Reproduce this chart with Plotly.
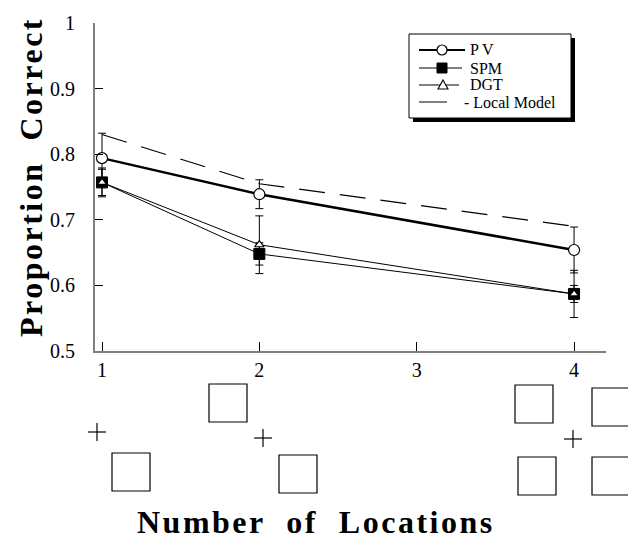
import plotly.graph_objects as go

# ---- data ----
locations = [1, 2, 4]
pv = [0.794, 0.739, 0.654]
pv_err = [0.038, 0.022, 0.035]
spm = [0.757, 0.648, 0.587]
spm_err = [0.022, 0.017, 0.036]
dgt = [0.757, 0.662, 0.587]
dgt_err = [0.020, 0.044, 0.013]
local_model = [0.830, 0.755, 0.690]

x_ticks = [1, 2, 3, 4]
x_ticktext = ["1", "2", "3", "4"]
y_ticks = [0.5, 0.6, 0.7, 0.8, 0.9, 1.0]
y_ticktext = ["0.5", "0.6", "0.7", "0.8", "0.9", "1"]
legend_labels = ["P V", "SPM", "DGT", "- Local Model"]

W, H = 628, 543
ML, MR, MT, MB = 95, 22, 23, 192
PW, PH = W - ML - MR, H - MT - MB

def px(xp):
    return (xp - ML) / PW

def py(yp):
    return (H - MB - yp) / PH

FONT = "Liberation Serif"

fig = go.Figure()

def err(vals):
    return dict(type="data", array=vals, visible=True, thickness=1, width=4, color="black")

fig.add_trace(go.Scatter(
    x=locations, y=local_model, name=legend_labels[3], mode="lines",
    line=dict(color="black", width=1.2, dash="26px,15px")))
fig.add_trace(go.Scatter(
    x=locations, y=pv, name=legend_labels[0], mode="lines+markers",
    line=dict(color="black", width=2.5),
    marker=dict(symbol="circle", size=11, color="white", line=dict(color="black", width=1.2)),
    error_y=err(pv_err)))
fig.add_trace(go.Scatter(
    x=locations, y=spm, name=legend_labels[1], mode="lines+markers",
    line=dict(color="black", width=1),
    marker=dict(symbol="square", size=11, color="black", line=dict(color="black", width=1)),
    error_y=err(spm_err)))
fig.add_trace(go.Scatter(
    x=locations, y=dgt, name=legend_labels[2], mode="lines+markers",
    line=dict(color="black", width=1),
    marker=dict(symbol="triangle-up", size=8, color="white", line=dict(color="black", width=1.2)),
    error_y=err(dgt_err)))

shapes = []
annotations = []

def pline(x0, y0, x1, y1, w=1.2):
    shapes.append(dict(type="line", xref="paper", yref="paper",
                       x0=px(x0), x1=px(x1), y0=py(y0), y1=py(y1),
                       line=dict(color="black", width=w), layer="above"))

def prect(x0, y0, x1, y1, fill=None, w=1.2):
    shapes.append(dict(type="rect", xref="paper", yref="paper",
                       x0=px(x0), x1=px(x1), y0=py(y0), y1=py(y1),
                       fillcolor=fill if fill else "rgba(0,0,0,0)",
                       line=dict(color="black", width=w), layer="above"))

# stimulus illustrations (pixel layout below each location tick)
squares = [(112, 453), (209, 384), (279, 455), (515, 385), (592, 388), (518, 457), (592, 457)]
crosses = [(97, 432), (263, 438), (573, 439)]
SQ = 38
for (x0, y0) in squares:
    prect(x0, y0, x0 + SQ, y0 + SQ)
for (cx, cy) in crosses:
    pline(cx - 9, cy, cx + 9, cy)
    pline(cx, cy - 9, cx, cy + 9)

# hand-drawn legend box with drop shadow
prect(413, 38, 575, 122, fill="black", w=0)
prect(409, 34, 571, 118, fill="white", w=1)
rows = [50, 68, 85, 102]
# PV
pline(419, rows[0], 465, rows[0], w=2)
shapes.append(dict(type="circle", xref="paper", yref="paper",
                   x0=px(437), x1=px(447), y0=py(rows[0] - 5), y1=py(rows[0] + 5),
                   fillcolor="white", line=dict(color="black", width=1.2), layer="above"))
# SPM
pline(419, rows[1], 462, rows[1], w=1)
prect(437, rows[1] - 5, 447, rows[1] + 5, fill="black", w=1)
# DGT
pline(419, rows[2], 459, rows[2], w=1)
tri = (f"M {px(443)},{py(rows[2] - 5)} L {px(448)},{py(rows[2] + 4)} "
       f"L {px(438)},{py(rows[2] + 4)} Z")
shapes.append(dict(type="path", xref="paper", yref="paper", path=tri,
                   fillcolor="white", line=dict(color="black", width=1.1), layer="above"))
# Local model
pline(419, rows[3], 447, rows[3], w=1)
text_x = [468, 468, 468, 462]
for lbl, r, tx in zip(legend_labels, rows, text_x):
    annotations.append(dict(text=lbl, xref="paper", yref="paper", x=px(tx), y=py(r),
                            xanchor="left", yanchor="middle", showarrow=False,
                            font=dict(family=FONT, size=16, color="black")))

annotations.append(dict(
    text="<b><span style='letter-spacing:2.5px'>Proportion  Correct</span></b>",
    xref="paper", yref="paper", x=px(31), y=py(177), xanchor="center", yanchor="middle",
    textangle=-90, showarrow=False, font=dict(family=FONT, size=32, color="black")))
annotations.append(dict(
    text="<b><span style='letter-spacing:2.5px'>Number  of  Locations</span></b>",
    xref="paper", yref="paper", x=px(316), y=py(522), xanchor="center", yanchor="middle",
    showarrow=False, font=dict(family=FONT, size=32, color="black")))

fig.update_layout(
    width=W, height=H,
    margin=dict(l=ML, r=MR, t=MT, b=MB),
    paper_bgcolor="white", plot_bgcolor="white",
    showlegend=False,
    shapes=shapes,
    annotations=annotations,
    xaxis=dict(range=[0.9555, 4.203], tickvals=x_ticks, ticktext=x_ticktext,
               showgrid=False, zeroline=False, showline=True, linecolor="#808080", linewidth=2,
               ticks="inside", ticklen=9, tickcolor="black", tickwidth=1,
               tickfont=dict(family=FONT, size=20, color="black")),
    yaxis=dict(range=[0.5, 1.0], tickvals=y_ticks, ticktext=y_ticktext,
               showgrid=False, zeroline=False, showline=True, linecolor="#808080", linewidth=2,
               ticks="inside", ticklen=8, tickcolor="black", tickwidth=1,
               ticklabelstandoff=14,
               tickfont=dict(family=FONT, size=20, color="black")),
)

fig.write_html("out.html")
